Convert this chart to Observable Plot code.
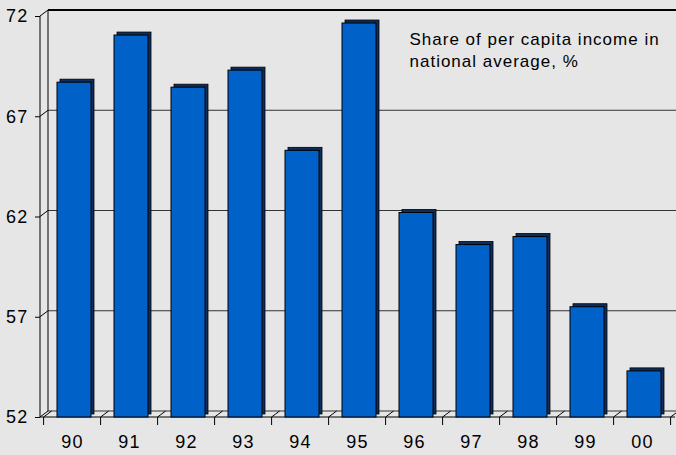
<!DOCTYPE html>
<html><head><meta charset="utf-8">
<script src="https://cdn.jsdelivr.net/npm/d3@7"></script>
<script src="https://cdn.jsdelivr.net/npm/@observablehq/plot@0.6"></script>
<style>
html,body{margin:0;padding:0;background:#e6e6e6;}
svg text{letter-spacing:1px;}
svg .digits text{letter-spacing:1.2px;}
</style></head><body><div id="chart"></div>
<script>
const years = ["90","91","92","93","94","95","96","97","98","99","00"];
const shares = [68.7, 71.05, 68.45, 69.3, 65.3, 71.65, 62.2, 60.6, 61.0, 57.5, 54.3];
const yTicks = [52, 57, 62, 67, 72];
const title = "Share of per capita income in\nnational average, %";

const data = years.map((year, i) => ({year, share: shares[i]}));
const depthX = 8, depthY = -6;

function wall(index, scales, values, dims) {
  const {x, y} = scales;
  const g = d3.create("svg:g").attr("fill", "none");
  const step = x(years[1]) - x(years[0]);
  const x0 = dims.marginLeft, x1 = dims.width - dims.marginRight;
  const yTop = y(yTicks[yTicks.length - 1]), yBot = y(yTicks[0]);
  const bounds = years.map(d => x(d) - step * 0.2).concat([x(years[years.length - 1]) + step * 0.8]);
  for (const v of yTicks) {
    const yy = y(v);
    const top = v === yTicks[yTicks.length - 1];
    g.append("line").attr("x1", x0 + depthX).attr("x2", dims.width).attr("y1", yy + depthY).attr("y2", yy + depthY)
      .attr("stroke", top ? "#000" : "#333").attr("stroke-width", top ? 2 : 1);
    g.append("line").attr("x1", x0).attr("x2", x0 + depthX).attr("y1", yy).attr("y2", yy + depthY).attr("stroke", "#000");
  }
  g.append("line").attr("x1", x0 + depthX).attr("x2", x0 + depthX).attr("y1", yTop + depthY).attr("y2", yBot + depthY).attr("stroke", "#000");
  for (const b of bounds) {
    g.append("line").attr("x1", b).attr("x2", b + depthX).attr("y1", yBot).attr("y2", yBot + depthY).attr("stroke", "#000");
    g.append("line").attr("x1", b).attr("x2", b).attr("y1", yBot).attr("y2", yBot + 8).attr("stroke", "#000");
  }
  g.append("line").attr("x1", x0).attr("x2", x0).attr("y1", yTop).attr("y2", yBot).attr("stroke", "#000");
  g.append("line").attr("x1", x0).attr("x2", x1).attr("y1", yBot).attr("y2", yBot).attr("stroke", "#000");
  return g.node();
}

const chart = Plot.plot({
  width: 676, height: 455,
  marginLeft: 40, marginRight: 1, marginTop: 16, marginBottom: 38,
  style: {background: "#e6e6e6", fontFamily: "'Liberation Sans', Arial, sans-serif", fontSize: "17px", color: "#000"},
  x: {domain: years, paddingInner: 0.4, paddingOuter: 0.2, axis: null},
  y: {domain: [52, 72], axis: null},
  marks: [
    wall,
    Plot.rectY(data, {x: "year", y1: 52, y2: "share", fill: "#0d2d5c", stroke: "#000", strokeWidth: 0.8, dx: 5, dy: -3}),
    Plot.rectY(data, {x: "year", y1: 52, y2: "share", fill: "#0061c9", stroke: "#000", strokeWidth: 1, dx: 2}),
    Plot.axisX({tickSize: 0, tickPadding: 18, fontSize: 18, label: null, className: "digits"}),
    Plot.axisY(yTicks, {tickSize: 5, tickPadding: 7, fontSize: 18, label: null, className: "digits"}),
    Plot.text([title], {frameAnchor: "top-left", dx: 369, dy: 12, lineAnchor: "top", textAnchor: "start", fontSize: 17, lineHeight: 1.33})
  ]
});
document.getElementById("chart").appendChild(chart);
</script></body></html>
